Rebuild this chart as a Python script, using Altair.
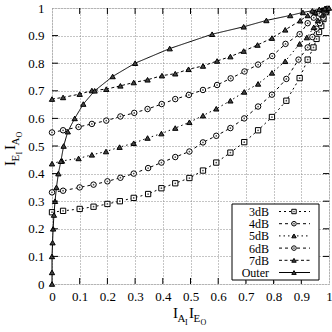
import altair as alt
import pandas as pd

# ---------------- data ----------------
series_names = ["3dB", "4dB", "5dB", "6dB", "7dB", "Outer"]

x_3dB = [0, 0.04, 0.1, 0.15, 0.2, 0.245, 0.295, 0.347, 0.395, 0.445, 0.496, 0.545, 0.593,
         0.644, 0.694, 0.744, 0.794, 0.846, 0.894, 0.923, 0.944, 0.955, 0.964, 0.972, 0.98, 0.99]
y_3dB = [0.26, 0.265, 0.272, 0.28, 0.29, 0.30, 0.312, 0.326, 0.347, 0.365, 0.384, 0.411, 0.44,
         0.476, 0.514, 0.557, 0.605, 0.664, 0.746, 0.813, 0.857, 0.888, 0.913, 0.935, 0.96, 0.985]

x_4dB = [0, 0.04, 0.1, 0.15, 0.2, 0.247, 0.295, 0.347, 0.395, 0.445, 0.496, 0.545, 0.593,
         0.644, 0.694, 0.744, 0.794, 0.846, 0.89, 0.923, 0.94, 0.955, 0.967, 0.98, 0.99]
y_4dB = [0.332, 0.338, 0.35, 0.36, 0.372, 0.385, 0.40, 0.42, 0.44, 0.46, 0.48, 0.513, 0.537,
         0.565, 0.60, 0.643, 0.686, 0.743, 0.813, 0.857, 0.895, 0.925, 0.945, 0.965, 0.985]

x_5dB = [0, 0.036, 0.096, 0.144, 0.195, 0.244, 0.295, 0.345, 0.395, 0.445, 0.496, 0.545,
         0.593, 0.644, 0.694, 0.744, 0.794, 0.842, 0.894, 0.92, 0.945, 0.96, 0.975, 0.99]
y_5dB = [0.436, 0.446, 0.455, 0.468, 0.48, 0.496, 0.51, 0.529, 0.545, 0.565, 0.586, 0.61,
         0.635, 0.664, 0.696, 0.725, 0.765, 0.807, 0.87, 0.893, 0.93, 0.955, 0.975, 0.99]

x_6dB = [0, 0.04, 0.096, 0.144, 0.196, 0.247, 0.297, 0.345, 0.396, 0.445, 0.494, 0.545,
         0.596, 0.645, 0.695, 0.744, 0.795, 0.843, 0.894, 0.923, 0.945, 0.965, 0.98, 0.993]
y_6dB = [0.549, 0.557, 0.569, 0.58, 0.592, 0.607, 0.62, 0.634, 0.652, 0.67, 0.685, 0.703,
         0.721, 0.745, 0.77, 0.795, 0.826, 0.87, 0.905, 0.945, 0.965, 0.98, 0.99, 0.997]

x_7dB = [0, 0.04, 0.1, 0.144, 0.196, 0.247, 0.295, 0.345, 0.397, 0.445, 0.493, 0.545, 0.596,
         0.644, 0.692, 0.742, 0.794, 0.842, 0.896, 0.923, 0.95, 0.975, 0.99]
y_7dB = [0.67, 0.676, 0.688, 0.701, 0.706, 0.718, 0.73, 0.74, 0.755, 0.762, 0.778, 0.79, 0.808,
         0.824, 0.844, 0.866, 0.891, 0.921, 0.954, 0.973, 0.985, 0.993, 0.998]

x_outer = [0, 0.0, 0.0, 0.002, 0.004, 0.007, 0.011, 0.016, 0.023, 0.032, 0.042, 0.057, 0.082,
           0.113, 0.154, 0.219, 0.30, 0.425, 0.578, 0.692, 0.774, 0.86, 0.906, 0.94, 0.965,
           0.985, 1.0]
y_outer = [0, 0.042, 0.10, 0.15, 0.20, 0.25, 0.30, 0.35, 0.40, 0.445, 0.50, 0.552, 0.60,
           0.652, 0.70, 0.752, 0.80, 0.853, 0.905, 0.932, 0.955, 0.973, 0.984, 0.99, 0.995,
           0.998, 1.0]

tick_values = [0, 0.1, 0.2, 0.3, 0.4, 0.5, 0.6, 0.7, 0.8, 0.9, 1.0]

series_x = [x_3dB, x_4dB, x_5dB, x_6dB, x_7dB, x_outer]
series_y = [y_3dB, y_4dB, y_5dB, y_6dB, y_7dB, y_outer]

# ---------------- styling ----------------
FONT = "Liberation Serif"
W, H = 277, 276
styles = {
    "3dB": dict(dash=[2, 3], shape="square", fill="white", dot=True, size=28),
    "4dB": dict(dash=[3, 3], shape="circle", fill="white", dot=True, size=30),
    "5dB": dict(dash=[1.5, 3], shape="triangle-up", fill="#444444", dot=False, size=28),
    "6dB": dict(dash=[3, 3], shape="circle", fill="white", dot=True, size=30),
    "7dB": dict(dash=[3, 2.5], shape="triangle-up", fill="#444444", dot=False, size=28),
    "Outer": dict(dash=[1, 0], shape="triangle-up", fill="#444444", dot=False, size=28),
}

def axis_cfg(pad):
    return alt.Axis(values=tick_values, format="~g", title=None, grid=True,
                    ticks=False, domain=False, labelFont=FONT, labelFontSize=13,
                    labelPadding=pad, labelColor="black", gridDash=[1, 2],
                    gridColor="#8a8a8a", labelFlush=False, labelOverlap=False,
                    labelBound=False)

x_enc = alt.X("x:Q", scale=alt.Scale(domain=[0, 1], nice=False, zero=False), axis=axis_cfg(6))
y_enc = alt.Y("y:Q", scale=alt.Scale(domain=[0, 1], nice=False, zero=False), axis=axis_cfg(8))

layers = []
for name, xs, ys in zip(series_names, series_x, series_y):
    df = pd.DataFrame({"x": xs, "y": ys, "i": list(range(len(xs)))})
    st = styles[name]
    base = alt.Chart(df)
    layers.append(base.mark_line(color="black", strokeWidth=1, strokeDash=st["dash"])
                  .encode(x=x_enc, y=y_enc, order="i:Q"))
    layers.append(base.mark_point(shape=st["shape"], filled=True, fill=st["fill"],
                                  stroke="black", strokeWidth=1, size=st["size"], opacity=1)
                  .encode(x=x_enc, y=y_enc))
    if st["dot"]:
        layers.append(base.mark_point(shape="circle", filled=True, color="black", size=3)
                      .encode(x=x_enc, y=y_enc))

# inward ticks on all four sides
tdf = pd.DataFrame({"x": tick_values[1:-1], "y": tick_values[1:-1]})
TL = 6
tk = alt.Chart(tdf)
layers.append(tk.mark_rule(color="black", strokeWidth=1).encode(
    x=x_enc, y=alt.value(H), y2=alt.value(H - TL)))
layers.append(tk.mark_rule(color="black", strokeWidth=1).encode(
    x=x_enc, y=alt.value(0), y2=alt.value(TL)))
layers.append(tk.mark_rule(color="black", strokeWidth=1).encode(
    y=y_enc, x=alt.value(0), x2=alt.value(TL)))
layers.append(tk.mark_rule(color="black", strokeWidth=1).encode(
    y=y_enc, x=alt.value(W), x2=alt.value(W - TL)))

# legend box
one = pd.DataFrame({"a": [0]})
layers.append(alt.Chart(one).mark_rect(fill="white", stroke="black", strokeWidth=1).encode(
    x=alt.value(180), x2=alt.value(267), y=alt.value(196), y2=alt.value(272)))
for k, name in enumerate(series_names):
    st = styles[name]
    py = 203.5 + 12.2 * k
    lc = alt.Chart(pd.DataFrame({"name": [name]}))
    layers.append(lc.mark_text(align="right", baseline="middle", font=FONT, fontSize=12,
                               color="black").encode(
        x=alt.value(217), y=alt.value(py + 0.5), text="name:N"))
    layers.append(lc.mark_rule(color="black", strokeWidth=1, strokeDash=st["dash"]).encode(
        x=alt.value(227), x2=alt.value(258), y=alt.value(py)))
    layers.append(lc.mark_point(shape=st["shape"], filled=True, fill=st["fill"],
                                stroke="black", strokeWidth=1, size=st["size"] * 0.7,
                                opacity=1).encode(x=alt.value(242), y=alt.value(py)))
    if st["dot"]:
        layers.append(lc.mark_point(shape="circle", filled=True, color="black", size=3)
                      .encode(x=alt.value(242), y=alt.value(py)))

# axis titles with subscripts (pieces of real text)
def piece(txt, px, py, size, angle=0):
    return alt.Chart(one).mark_text(text=txt, font=FONT, fontSize=size, color="black",
                                    align="left", baseline="alphabetic", angle=angle).encode(
        x=alt.value(px), y=alt.value(py))

# x title: I_{A_I} I_{E_O}
layers += [
    piece("I", 121, 310, 15), piece("A", 125.5, 313.5, 11), piece("I", 133, 316.5, 8),
    piece("I", 137, 310, 15), piece("E", 141.5, 313.5, 11), piece("O", 148.5, 316.5, 8),
]
# y title: I_{E_I} I_{A_O}, rotated
layers += [
    piece("I", -37, 158, 15, 270), piece("E", -33.5, 153.5, 11, 270),
    piece("I", -30.5, 146.5, 8, 270),
    piece("I", -37, 142, 15, 270), piece("A", -33.5, 137.5, 11, 270),
    piece("O", -30.5, 129.5, 8, 270),
]

chart = alt.layer(*layers).properties(
    width=W, height=H,
    autosize=alt.AutoSizeParams(type="none"),
    padding={"left": 52, "top": 8, "right": 3, "bottom": 48},
).configure_view(stroke="black", strokeWidth=1.2).configure_axis(
    labelOverlap=False, labelFont=FONT, labelFontSize=13
).configure(background="white")

chart.save("out.html", embed_options={"renderer": "svg", "actions": False})
